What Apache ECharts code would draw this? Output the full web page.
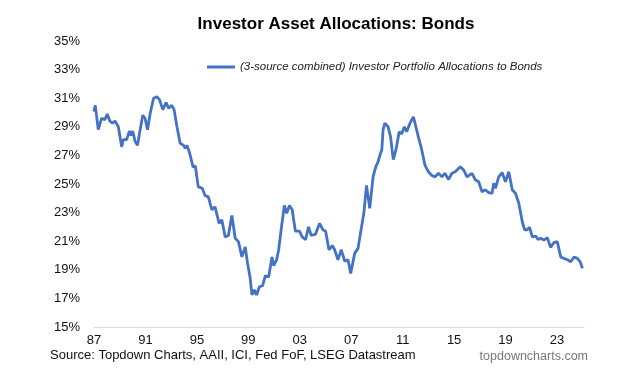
<!DOCTYPE html>
<html><head><meta charset="utf-8">
<script src="https://cdn.jsdelivr.net/npm/echarts@6/dist/echarts.min.js"></script>
<style>html,body{margin:0;padding:0;background:#fff}#c{width:628px;height:384px}</style>
</head><body><div id="c"></div>
<script>
const years = [1987.0,1987.1,1987.33,1987.59,1987.84,1988.03,1988.23,1988.45,1988.63,1988.89,1989.15,1989.28,1989.54,1989.75,1989.88,1990.01,1990.19,1990.38,1990.53,1990.79,1990.97,1991.16,1991.36,1991.63,1991.88,1992.09,1992.35,1992.61,1992.80,1993.05,1993.23,1993.45,1993.70,1993.97,1994.09,1994.23,1994.44,1994.70,1994.88,1995.01,1995.11,1995.42,1995.63,1995.89,1996.16,1996.41,1996.73,1996.94,1997.20,1997.45,1997.72,1997.98,1998.23,1998.50,1998.76,1998.94,1999.13,1999.28,1999.46,1999.64,1999.85,2000.11,2000.32,2000.58,2000.84,2000.97,2001.20,2001.36,2001.55,2001.80,2001.98,2002.20,2002.41,2002.66,2002.98,2003.19,2003.45,2003.68,2003.89,2004.23,2004.54,2004.80,2005.01,2005.27,2005.53,2005.71,2005.97,2006.23,2006.49,2006.75,2006.96,2007.27,2007.53,2007.72,2007.98,2008.19,2008.44,2008.70,2008.91,2009.09,2009.28,2009.38,2009.48,2009.61,2009.87,2010.06,2010.27,2010.48,2010.73,2010.92,2011.13,2011.31,2011.57,2011.83,2011.96,2012.22,2012.48,2012.74,2013.00,2013.27,2013.52,2013.78,2014.05,2014.30,2014.56,2014.83,2015.09,2015.48,2015.73,2016.0,2016.13,2016.39,2016.64,2016.91,2017.17,2017.43,2017.69,2017.95,2018.08,2018.21,2018.47,2018.73,2018.99,2019.25,2019.52,2019.77,2020.03,2020.30,2020.48,2020.69,2020.87,2021.08,2021.34,2021.52,2021.73,2021.98,2022.25,2022.50,2022.76,2023.02,2023.29,2023.54,2023.81,2024.07,2024.33,2024.59,2024.80,2024.98];
const bondAlloc = [30.06,30.5,28.8,29.6,29.5,29.9,29.4,29.25,29.4,29.0,27.6,28.1,28.1,28.7,28.4,28.7,28.0,27.7,28.5,29.8,29.6,28.8,29.9,31.0,31.1,30.9,30.2,30.7,30.3,30.5,30.2,29.0,27.85,27.7,27.5,27.7,27.15,26.2,26.26,25.4,24.8,24.7,24.2,24.1,23.2,23.4,22.25,22.5,21.3,21.4,22.8,21.2,20.97,19.9,20.6,19.45,18.5,17.24,17.6,17.24,17.8,17.9,18.57,18.5,19.9,19.3,19.7,20.4,21.8,23.5,22.95,23.5,23.2,21.7,21.7,21.3,21.1,22.0,21.4,21.5,22.25,21.8,21.7,20.4,20.7,20.4,19.7,20.4,19.6,19.7,18.75,20.15,20.5,21.55,22.95,24.9,23.3,25.5,26.2,26.56,27.15,27.4,28.8,29.25,29.0,28.3,26.7,27.4,28.66,28.5,29.0,28.66,29.25,29.7,29.25,28.3,27.4,26.3,25.86,25.6,25.5,25.75,25.5,25.75,25.3,25.75,25.86,26.2,26.0,25.5,25.4,25.75,25.3,25.16,24.46,24.6,24.4,24.35,25.05,24.7,25.5,25.8,25.16,25.86,24.6,24.35,23.65,22.36,21.8,21.8,21.97,21.3,21.36,21.13,21.2,21.08,21.24,20.57,20.9,20.97,19.9,19.8,19.7,19.56,19.9,19.8,19.56,19.1];
const yTicks = [15,17,19,21,23,25,27,29,31,33,35];
const xTickYears = [1987,1991,1995,1999,2003,2007,2011,2015,2019,2023];
const titleText = 'Investor Asset Allocations: Bonds';
const seriesName = '(3-source combined) Investor Portfolio Allocations to Bonds';
const sourceText = 'Source: Topdown Charts, AAII, ICI, Fed FoF, LSEG Datastream';
const brandText = 'topdowncharts.com';

const chart = echarts.init(document.getElementById('c'), null, {renderer:'canvas'});
const font = 'Liberation Sans, Arial, sans-serif';
chart.setOption({
  animation:false,
  backgroundColor:'#fff',
  title:{text:titleText,left:331,top:11,textAlign:'center',
    textStyle:{fontFamily:font,fontSize:17,fontWeight:'bold',color:'#000'}},
  legend:{data:[seriesName],left:202,top:56,itemWidth:28,itemHeight:3,itemGap:6,
    icon:'rect',
    textStyle:{fontFamily:font,fontSize:11.5,fontStyle:'italic',color:'#222'}},
  grid:{left:94,right:44,top:41,bottom:57},
  xAxis:{type:'value',min:1987,max:2025.1,interval:4,
    axisLine:{show:true,lineStyle:{color:'#d9d9d9',width:1}},
    axisTick:{show:false},splitLine:{show:false},
    axisLabel:{fontFamily:font,fontSize:13,color:'#111',margin:7,
      formatter:v=>xTickYears.indexOf(v)>=0?String(v%100).padStart(2,'0'):''}},
  yAxis:{type:'value',min:yTicks[0],max:yTicks[yTicks.length-1],interval:2,
    axisLine:{show:false},axisTick:{show:false},splitLine:{show:false},
    axisLabel:{fontFamily:font,fontSize:13,color:'#111',margin:14,formatter:v=>v+'%'}},
  series:[{name:seriesName,type:'line',showSymbol:false,symbol:'none',
    lineStyle:{color:'#4472C4',width:2.8},itemStyle:{color:'#4472C4'},
    data:years.map((y,i)=>[y,bondAlloc[i]])}],
  graphic:[
    {type:'text',left:50,top:349,style:{text:sourceText,fontFamily:font,fontSize:13,fill:'#111'}},
    {type:'text',right:40,top:350,style:{text:brandText,fontFamily:font,fontSize:12.5,fill:'#777'}}
  ]
});
</script></body></html>
